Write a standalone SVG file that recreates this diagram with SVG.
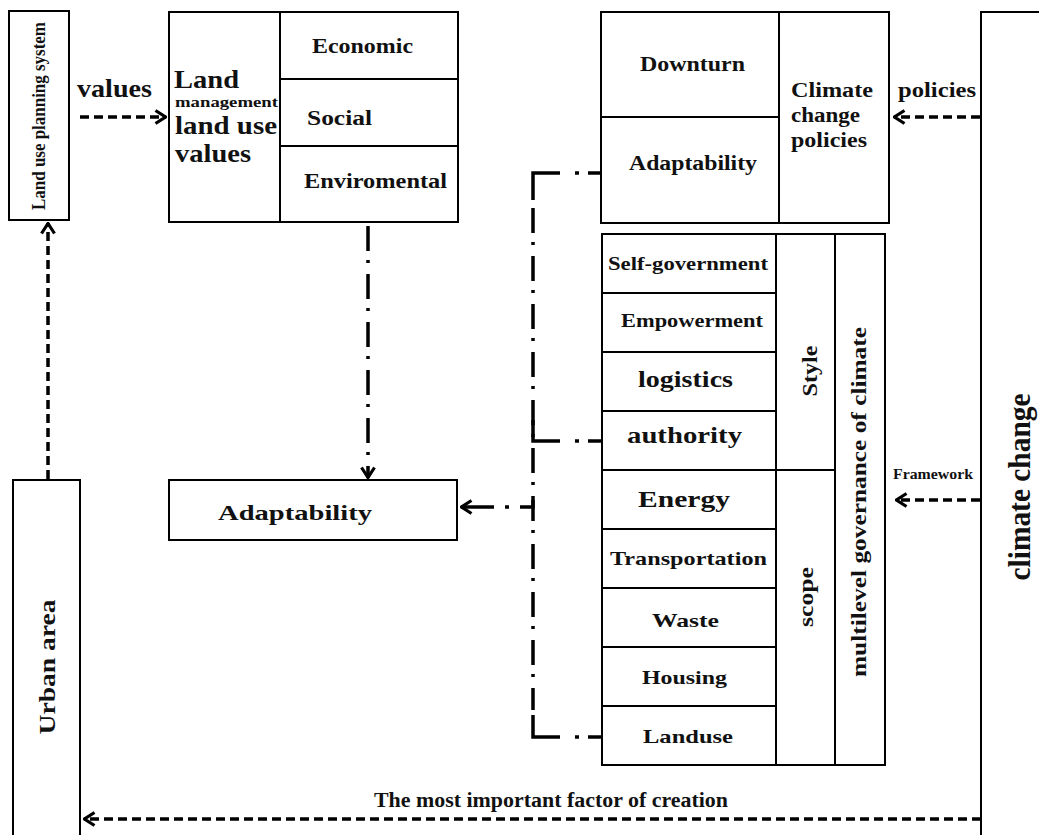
<svg xmlns="http://www.w3.org/2000/svg" width="1039" height="835" viewBox="0 0 1039 835">
<style>
.box{fill:#fff;stroke:#000;stroke-width:2}
.ln{stroke:#000;stroke-width:2;fill:none}
text{font-family:"Liberation Serif","Times New Roman",serif;font-weight:bold;fill:#111}
.dash{stroke:#000;stroke-width:3.5;fill:none;stroke-dasharray:9 5}
.dd{stroke:#000;stroke-width:3.5;fill:none;stroke-dasharray:25 9 3 11}
.solid{stroke:#000;stroke-width:3.5;fill:none}
</style>
<defs>
<marker id="ah" viewBox="0 0 13 16" refX="12" refY="8" markerWidth="13" markerHeight="16" markerUnits="userSpaceOnUse" orient="auto">
<path d="M1.5,1.5 L11.5,8 L1.5,14.5" fill="none" stroke="#000" stroke-width="3.2" stroke-linejoin="miter"/>
</marker>
</defs>
<rect width="1039" height="835" fill="#fff"/>

<g id="landuse-planning">
<rect class="box" x="9" y="11" width="60" height="209"/>
<text transform="translate(45,116) rotate(-90)" text-anchor="middle" font-size="19" textLength="188" lengthAdjust="spacingAndGlyphs">Land use planning system</text>
</g>

<g id="land-values">
<rect class="box" x="169" y="12" width="289" height="210"/>
<line class="ln" x1="280" y1="12" x2="280" y2="222"/>
<line class="ln" x1="280" y1="79" x2="458" y2="79"/>
<line class="ln" x1="280" y1="146" x2="458" y2="146"/>
<text x="174" y="88" font-size="25" textLength="65" lengthAdjust="spacingAndGlyphs">Land</text>
<text x="175" y="107" font-size="15" textLength="103" lengthAdjust="spacingAndGlyphs">management</text>
<text x="175" y="134" font-size="25" textLength="102" lengthAdjust="spacingAndGlyphs">land use</text>
<text x="175" y="162" font-size="25" textLength="76" lengthAdjust="spacingAndGlyphs">values</text>
<text x="312" y="53" font-size="20" textLength="101" lengthAdjust="spacingAndGlyphs">Economic</text>
<text x="307" y="125" font-size="20" textLength="65" lengthAdjust="spacingAndGlyphs">Social</text>
<text x="304" y="188" font-size="20" textLength="143" lengthAdjust="spacingAndGlyphs">Enviromental</text>
</g>

<g id="adaptability">
<rect class="box" x="169" y="480" width="288" height="60"/>
<text x="218" y="520" font-size="22" textLength="154" lengthAdjust="spacingAndGlyphs">Adaptability</text>
</g>

<g id="urban-area">
<rect class="box" x="13" y="480" width="67" height="380"/>
<text transform="translate(55,667) rotate(-90)" text-anchor="middle" font-size="24" textLength="135" lengthAdjust="spacingAndGlyphs">Urban area</text>
</g>

<g id="climate-policies">
<rect class="box" x="601" y="12" width="288" height="211"/>
<line class="ln" x1="779" y1="12" x2="779" y2="223"/>
<line class="ln" x1="601" y1="117" x2="779" y2="117"/>
<text x="640" y="71" font-size="20" textLength="105" lengthAdjust="spacingAndGlyphs">Downturn</text>
<text x="629" y="170" font-size="20" textLength="128" lengthAdjust="spacingAndGlyphs">Adaptability</text>
<text x="791" y="97" font-size="20" textLength="82" lengthAdjust="spacingAndGlyphs">Climate</text>
<text x="791" y="122" font-size="20" textLength="69" lengthAdjust="spacingAndGlyphs">change</text>
<text x="791" y="147" font-size="20" textLength="76" lengthAdjust="spacingAndGlyphs">policies</text>
</g>

<g id="governance">
<rect class="box" x="602" y="234" width="283" height="531"/>
<line class="ln" x1="776" y1="234" x2="776" y2="765"/>
<line class="ln" x1="835" y1="234" x2="835" y2="765"/>
<line class="ln" x1="602" y1="293" x2="776" y2="293"/>
<line class="ln" x1="602" y1="352" x2="776" y2="352"/>
<line class="ln" x1="602" y1="411" x2="776" y2="411"/>
<line class="ln" x1="602" y1="470" x2="835" y2="470"/>
<line class="ln" x1="602" y1="529" x2="776" y2="529"/>
<line class="ln" x1="602" y1="588" x2="776" y2="588"/>
<line class="ln" x1="602" y1="647" x2="776" y2="647"/>
<line class="ln" x1="602" y1="706" x2="776" y2="706"/>
<text x="608" y="270" font-size="18" textLength="160" lengthAdjust="spacingAndGlyphs">Self-government</text>
<text x="621" y="327" font-size="18" textLength="142" lengthAdjust="spacingAndGlyphs">Empowerment</text>
<text x="638" y="387" font-size="23" textLength="95" lengthAdjust="spacingAndGlyphs">logistics</text>
<text x="627" y="443" font-size="23" textLength="115" lengthAdjust="spacingAndGlyphs">authority</text>
<text x="638" y="507" font-size="23" textLength="92" lengthAdjust="spacingAndGlyphs">Energy</text>
<text x="610" y="565" font-size="19" textLength="157" lengthAdjust="spacingAndGlyphs">Transportation</text>
<text x="652" y="627" font-size="19" textLength="67" lengthAdjust="spacingAndGlyphs">Waste</text>
<text x="642" y="684" font-size="19" textLength="85" lengthAdjust="spacingAndGlyphs">Housing</text>
<text x="643" y="743" font-size="19" textLength="90" lengthAdjust="spacingAndGlyphs">Landuse</text>
<text transform="translate(817,371) rotate(-90)" text-anchor="middle" font-size="22" textLength="51" lengthAdjust="spacingAndGlyphs">Style</text>
<text transform="translate(813,597) rotate(-90)" text-anchor="middle" font-size="22" textLength="60" lengthAdjust="spacingAndGlyphs">scope</text>
<text transform="translate(866,502) rotate(-90)" text-anchor="middle" font-size="22" textLength="350" lengthAdjust="spacingAndGlyphs">multilevel governance of climate</text>
</g>

<g id="climate-change">
<rect class="box" x="981" y="12" width="90" height="900"/>
<text transform="translate(1030,487) rotate(-90)" text-anchor="middle" font-size="31" textLength="187" lengthAdjust="spacingAndGlyphs">climate change</text>
</g>

<g id="connectors">
<line class="dash" x1="80" y1="117" x2="166" y2="117" marker-end="url(#ah)"/>
<text x="77" y="97" font-size="25" textLength="75" lengthAdjust="spacingAndGlyphs">values</text>
<line class="dash" x1="48" y1="479" x2="48" y2="223" marker-end="url(#ah)"/>
<line class="dash" x1="980" y1="117" x2="894" y2="117" marker-end="url(#ah)"/>
<text x="898" y="97" font-size="20" textLength="78" lengthAdjust="spacingAndGlyphs">policies</text>
<line class="dash" x1="980" y1="500" x2="896" y2="500" stroke-width="2.5" marker-end="url(#ah)"/>
<text x="893" y="479" font-size="14" textLength="80" lengthAdjust="spacingAndGlyphs">Framework</text>
<line class="dash" x1="981" y1="819" x2="84" y2="819" marker-end="url(#ah)"/>
<text x="374" y="807" font-size="20" textLength="354" lengthAdjust="spacingAndGlyphs">The most important factor of creation</text>
<line class="dd" x1="368" y1="226" x2="368" y2="478" stroke-width="3" marker-end="url(#ah)"/>
<path class="solid" d="M560,173 H533 V200"/>
<line class="dd" x1="533" y1="208" x2="533" y2="710"/>
<path class="solid" d="M533,420 V441 H560"/>
<path class="solid" d="M533,715 V737 H560"/>
<line class="solid" x1="575" y1="173" x2="579" y2="173"/>
<line class="solid" x1="588" y1="173" x2="601" y2="173"/>
<line class="solid" x1="575" y1="441" x2="579" y2="441"/>
<line class="solid" x1="588" y1="441" x2="601" y2="441"/>
<line class="solid" x1="575" y1="737" x2="579" y2="737"/>
<line class="solid" x1="588" y1="737" x2="601" y2="737"/>
<path class="solid" d="M533,500 V507 H520"/>
<line class="solid" x1="505" y1="507" x2="509" y2="507"/>
<line class="solid" x1="494" y1="507" x2="461" y2="507" marker-end="url(#ah)"/>
</g>
</svg>
